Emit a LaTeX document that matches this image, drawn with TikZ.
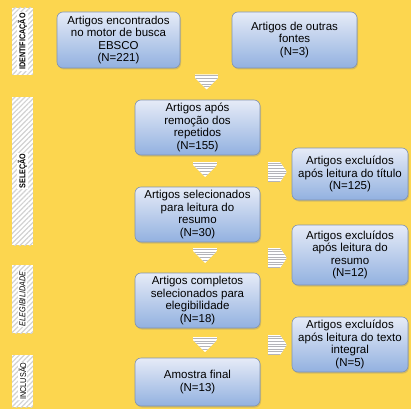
\documentclass[tikz,border=0pt]{standalone}
\usepackage{fontspec}
\setmainfont{Liberation Sans}
\newfontfamily\etapafont[FakeStretch=0.85]{Liberation Sans}
\usetikzlibrary{shadows,patterns.meta}

\definecolor{fundo}{RGB}{252,214,79}
\definecolor{caixatopo}{RGB}{230,235,247}
\definecolor{caixabase}{RGB}{146,177,224}
\definecolor{caixalinha}{RGB}{128,146,176}
\definecolor{listra}{RGB}{180,180,185}

\tikzset{
  caixa/.style={rectangle, rounded corners=6pt, draw=caixalinha, line width=0.6pt,
    top color=caixatopo, bottom color=caixabase, align=center, inner sep=2pt,
    font=\fontsize{11.5}{12.6}\selectfont,
    drop shadow={shadow xshift=1pt, shadow yshift=-1.5pt, opacity=0.3}},
  etapa/.style={rectangle, minimum width=21pt, inner sep=0pt, preaction={fill=white},
    pattern={Lines[angle=45,distance=3.5pt,line width=1.2pt]}, pattern color=gray!35},
  etapatexto/.style={rotate=90, fill=white, inner sep=1pt,
    font=\etapafont\fontsize{8.5}{9}\selectfont},
}

\begin{document}
\begin{tikzpicture}[x=1pt, y=-1pt]
    %Fundo
    \fill[fundo] (0,0) rectangle (411,409);
    \useasboundingbox (0,0) rectangle (411,409);

    %Etapas
    \node[etapa, minimum height=67pt] (identificacao) at (22.5,41.5) {};
    \node[etapatexto] at (identificacao) {\bfseries IDENTIFICAÇÃO};
    \node[etapa, minimum height=148pt] (selecao) at (22.5,171) {};
    \node[etapatexto] at (selecao) {\bfseries SELEÇÃO};
    \node[etapa, minimum height=68pt] (elegibilidade) at (22.5,299) {};
    \node[etapatexto] at (elegibilidade) {\itshape ELEGIBILIDADE};
    \node[etapa, minimum height=52pt] (inclusao) at (22.5,381) {};
    \node[etapatexto] at (inclusao) {INCLUSÃO};

    %Caixas
    \node[caixa, minimum width=123pt, minimum height=56pt] (ebsco) at (118.5,40)
        {Artigos encontrados\\no motor de busca\\EBSCO\\(N=221)};
    \node[caixa, minimum width=125pt, minimum height=56pt] (outras) at (294.5,40)
        {Artigos de outras\\fontes\\(N=3)};
    \node[caixa, minimum width=125pt, minimum height=55pt] (repetidos) at (197.5,127.5)
        {Artigos após\\remoção dos\\repetidos\\(N=155)};
    \node[caixa, minimum width=125pt, minimum height=55pt] (resumo) at (197.5,214.5)
        {Artigos selecionados\\para leitura do\\resumo\\(N=30)};
    \node[caixa, minimum width=125pt, minimum height=55pt] (completos) at (197.5,300.5)
        {Artigos completos\\selecionados para\\elegibilidade\\(N=18)};
    \node[caixa, minimum width=125pt, minimum height=48pt] (final) at (197.5,382)
        {Amostra final\\(N=13)};
    \node[caixa, minimum width=116pt, minimum height=52pt] (exclTitulo) at (350,174)
        {Artigos excluídos\\após leitura do título\\(N=125)};
    \node[caixa, minimum width=116pt, minimum height=60pt] (exclResumo) at (350,255)
        {Artigos excluídos\\após leitura do\\resumo\\(N=12)};
    \node[caixa, minimum width=116pt, minimum height=55pt] (exclTexto) at (350,344.5)
        {Artigos excluídos\\após leitura do texto\\integral\\(N=5)};

    %Setas para baixo
    \foreach \nome/\x/\y in {baixo1/206.5/82, baixo2/205/169.5, baixo3/205/255.5, baixo4/205/344.5} {
        \coordinate (\nome) at (\x,\y);
        \begin{scope}
            \clip (\x-12,\y-7.5) -- (\x+12,\y-7.5) -- (\x+12,\y-4.5) -- (\x,\y+7.5)
                -- (\x-12,\y-4.5) -- cycle;
            \fill[white] (\x-12,\y-7.5) rectangle (\x+12,\y+7.5);
            \foreach \k in {0,...,5}
                \draw[listra, line width=0.9pt] (\x-12,\y-6.3+\k*2.8) -- (\x+12,\y-6.3+\k*2.8);
        \end{scope}
    }
    %Setas para o lado
    \foreach \nome/\y in {lado1/172, lado2/258, lado3/345} {
        \coordinate (\nome) at (277.5,\y);
        \begin{scope}
            \clip (268,\y-10) -- (280,\y-10) -- (287,\y) -- (280,\y+10)
                -- (268,\y+10) -- cycle;
            \fill[white] (268,\y-10) rectangle (287,\y+10);
            \foreach \k in {0,...,7}
                \draw[listra, line width=0.9pt] (268,\y-8.8+\k*2.6) -- (287,\y-8.8+\k*2.6);
        \end{scope}
    }
\end{tikzpicture}
\end{document}
